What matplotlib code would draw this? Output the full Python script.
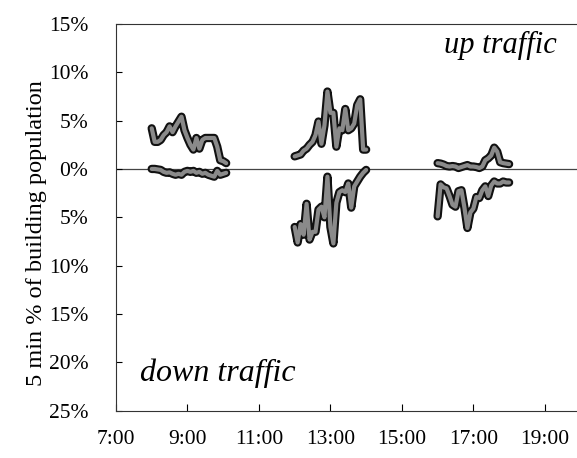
import numpy as np
import matplotlib
matplotlib.use("Agg")
import matplotlib.pyplot as plt
import matplotlib.patheffects as pe
from matplotlib.ticker import FuncFormatter

plt.rcParams['font.family'] = ['Liberation Serif', 'DejaVu Serif']

# 5-minute samples, % of building population
t_morning = 8 + np.arange(26) / 12
up_morning = [4.2, 2.8, 2.8, 3.0, 3.5, 3.8, 4.4, 3.8, 4.4, 4.9, 5.4, 4.0, 3.2,
              2.5, 2.0, 3.2, 2.1, 3.0, 3.2, 3.2, 3.2, 3.2, 2.3, 0.9, 0.8, 0.6]
down_morning = [0.0, 0.0, 0.05, 0.1, 0.3, 0.4, 0.35, 0.5, 0.6, 0.5, 0.6, 0.3, 0.2,
                0.3, 0.2, 0.4, 0.3, 0.5, 0.4, 0.6, 0.7, 0.8, 0.2, 0.6, 0.5, 0.4]

t_noon = 12 + np.arange(25) / 12
up_noon = [1.3, 1.4, 1.5, 1.9, 2.1, 2.5, 2.8, 3.5, 4.9, 2.6, 4.5, 8.0, 5.8,
           5.8, 2.3, 4.2, 4.0, 6.2, 4.0, 4.2, 4.7, 6.6, 7.2, 2.0, 2.0]
down_noon = [6.0, 7.6, 5.7, 6.8, 3.6, 7.3, 6.5, 6.5, 4.2, 3.9, 5.0, 0.8, 6.0,
             7.7, 3.5, 2.4, 2.2, 2.4, 1.5, 4.0, 1.8, 1.3, 0.8, 0.4, 0.1]

t_evening = 16 + np.arange(25) / 12
up_evening = [0.6, 0.55, 0.45, 0.3, 0.25, 0.3, 0.25, 0.1, 0.2, 0.3, 0.4, 0.25, 0.25,
              0.2, 0.1, 0.25, 0.9, 1.1, 1.4, 2.2, 1.8, 0.7, 0.6, 0.55, 0.5]
down_evening = [4.9, 1.6, 1.9, 2.0, 2.8, 3.7, 3.9, 2.3, 2.2, 4.0, 6.1, 4.5, 4.1,
                2.9, 3.0, 2.2, 1.8, 2.8, 1.7, 1.3, 1.5, 1.5, 1.3, 1.4, 1.4]

x_ticks = [7, 9, 11, 13, 15, 17, 19]
x_labels = ['7:00', '9:00', '11:00', '13:00', '15:00', '17:00', '19:00']
y_ticks = [15, 10, 5, 0, -5, -10, -15, -20, -25]

fig = plt.figure(figsize=(5.77, 4.58), dpi=100)
ax = fig.add_axes([0.201, 0.103, 0.799, 0.845])

ax.axhline(0, color='#444444', lw=0.9, zorder=1)

fx = [pe.Stroke(linewidth=6, foreground='#111111'), pe.Normal()]
for t, up, down in [(t_morning, up_morning, down_morning),
                    (t_noon, up_noon, down_noon),
                    (t_evening, up_evening, down_evening)]:
    ax.plot(t, up, color='#8a8a8a', lw=3, path_effects=fx, zorder=3,
            solid_joinstyle='round', solid_capstyle='round')
    ax.plot(t, -np.array(down), color='#8a8a8a', lw=3, path_effects=fx, zorder=3,
            solid_joinstyle='round', solid_capstyle='round')

ax.set_xlim(7, 19.9)
ax.set_ylim(-25, 15)
ax.set_xticks(x_ticks)
ax.set_xticklabels(x_labels)
ax.set_yticks(y_ticks)
ax.yaxis.set_major_formatter(FuncFormatter(lambda v, p: '%d%%' % abs(v)))

ax.spines['right'].set_visible(False)
for s in ['left', 'top', 'bottom']:
    ax.spines[s].set_linewidth(0.8)
    ax.spines[s].set_color('#333333')
ax.tick_params(axis='y', direction='in', length=4, width=0.8, pad=20, labelsize=15.5)
ax.tick_params(axis='x', direction='in', length=5, width=0.8, pad=14, labelsize=15.5)

ax.set_ylabel('5 min % of building population', fontsize=17.5, labelpad=5)
ax.yaxis.set_label_coords(-0.15, 0.46)

ax.text(0.957, 0.944, 'up traffic', transform=ax.transAxes, style='italic',
        fontsize=22, ha='right', va='center')
ax.text(0.052, 0.098, 'down traffic', transform=ax.transAxes, style='italic',
        fontsize=23, ha='left', va='center')

fig.savefig('out.png', dpi=100)
